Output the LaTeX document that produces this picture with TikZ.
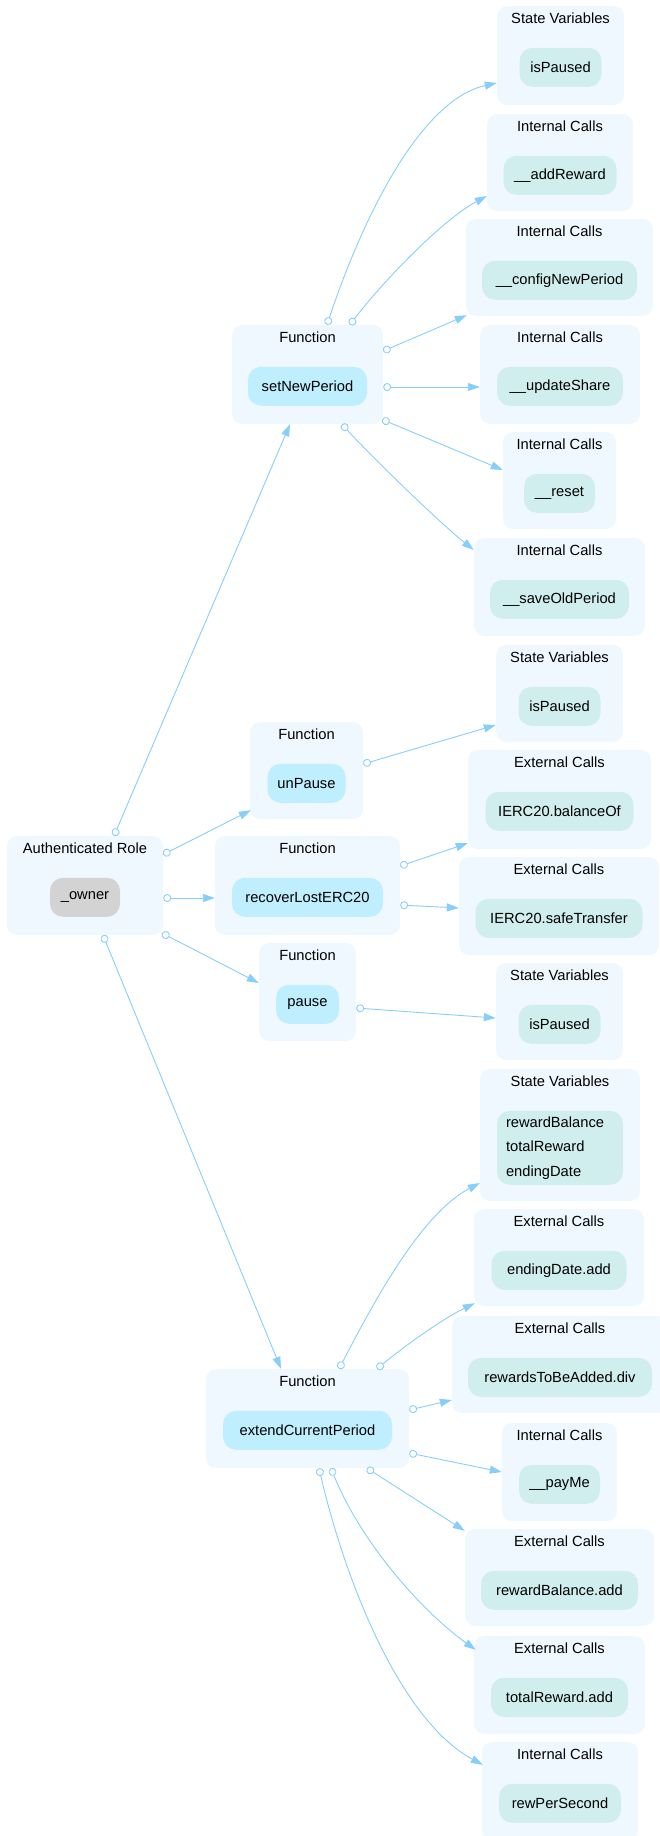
\documentclass[tikz,border=0pt]{standalone}
\usepackage{fontspec}
\setmainfont{Liberation Sans}
\usetikzlibrary{arrows.meta,fit}
\definecolor{clusterbg}{HTML}{F0F8FF}
\definecolor{fnfill}{HTML}{BFEFFF}
\definecolor{callfill}{HTML}{D1EEEE}
\definecolor{rolefill}{HTML}{D3D3D3}
\definecolor{edgecol}{HTML}{87CEFA}
\newcommand{\labelfont}{\fontsize{14.7}{17}\selectfont}
\tikzset{
grp/.style={fill=clusterbg, rounded corners=10pt, inner sep=0pt},
grptitle/.style={font=\labelfont, inner sep=0pt},
item/.style={rounded corners=13pt, minimum height=39pt, inner sep=0pt, font=\labelfont},
fn/.style={item, fill=fnfill},
call/.style={item, fill=callfill},
role/.style={item, fill=rolefill},
edge/.style={draw=edgecol, line width=0.9pt, {Circle[open,length=8pt,width=8pt]}-{Triangle[length=12pt,width=8pt]}}
}
% name, x1, y1, x2, y2, title
\newcommand{\callbox}[6]{%
  \node[grp, fit={(#2,#3) (#4,#5)}] (#1) {};
  \node[grptitle] (#1T) at ([shift={(0,12)}]#1.north) {#6};
}

\begin{document}
\begin{tikzpicture}[x=1pt, y=-1pt]
  \useasboundingbox (0,0) rectangle (659,1836);

  % role and functions
  \callbox{authRole}{7}{836}{163}{935}{Authenticated Role}
  \callbox{fnSet}{232}{325}{383}{424}{Function}
  \callbox{fnUnpause}{250}{722}{363}{819}{Function}
  \callbox{fnRecover}{215}{836}{400}{935}{Function}
  \callbox{fnPause}{259}{943}{356}{1041}{Function}
  \callbox{fnExtend}{206}{1369}{409}{1468}{Function}
  \node[role, minimum width=70pt] (owner) at ([shift={(0,61.5)}]authRole.north) {\_owner};
  \node[fn, minimum width=119pt] (setNewPeriod) at ([shift={(0,61.5)}]fnSet.north) {setNewPeriod};
  \node[fn, minimum width=78pt] (unPause) at ([shift={(0,61.5)}]fnUnpause.north) {unPause};
  \node[fn, minimum width=151pt] (recoverLostERC20) at ([shift={(0,61.5)}]fnRecover.north) {recoverLostERC20};
  \node[fn, minimum width=63pt] (pause) at ([shift={(0,61.5)}]fnPause.north) {pause};
  \node[fn, minimum width=169pt] (extendCurrentPeriod) at ([shift={(0,61.5)}]fnExtend.north) {extendCurrentPeriod};

  % setNewPeriod
  \callbox{svSet}{497}{6}{624}{105}{State Variables}
  \callbox{icAddReward}{487}{114}{633}{211}{Internal Calls}
  \callbox{icConfig}{466}{219}{653}{316}{Internal Calls}
  \callbox{icUpdate}{480}{325}{640}{424}{Internal Calls}
  \callbox{icReset}{503}{432}{616}{529}{Internal Calls}
  \callbox{icSaveOld}{474}{538}{645}{636}{Internal Calls}
  \node[call, minimum width=82pt] (isPausedA) at ([shift={(0,61.5)}]svSet.north) {isPaused};
  \node[call, minimum width=113pt] (addReward) at ([shift={(0,61.5)}]icAddReward.north) {\_\_addReward};
  \node[call, minimum width=155pt] (configNewPeriod) at ([shift={(0,61.5)}]icConfig.north) {\_\_configNewPeriod};
  \node[call, minimum width=126pt] (updateShare) at ([shift={(0,61.5)}]icUpdate.north) {\_\_updateShare};
  \node[call, minimum width=71pt] (reset) at ([shift={(0,61.5)}]icReset.north) {\_\_reset};
  \node[call, minimum width=139pt] (saveOldPeriod) at ([shift={(0,61.5)}]icSaveOld.north) {\_\_saveOldPeriod};

  % unPause, recoverLostERC20, pause
  \callbox{svUnpause}{496}{645}{623}{742}{State Variables}
  \callbox{ecBalance}{468}{750}{651}{849}{External Calls}
  \callbox{ecSafe}{459}{857}{659}{955}{External Calls}
  \callbox{svPause}{496}{963}{623}{1060}{State Variables}
  \node[call, minimum width=82pt] (isPausedB) at ([shift={(0,61.5)}]svUnpause.north) {isPaused};
  \node[call, minimum width=148pt] (balanceOf) at ([shift={(0,61.5)}]ecBalance.north) {IERC20.balanceOf};
  \node[call, minimum width=167pt] (safeTransfer) at ([shift={(0,61.5)}]ecSafe.north) {IERC20.safeTransfer};
  \node[call, minimum width=82pt] (isPausedC) at ([shift={(0,61.5)}]svPause.north) {isPaused};

  % extendCurrentPeriod
  \callbox{svExtend}{480}{1069}{640}{1201}{State Variables}
  \callbox{ecEnding}{474}{1209}{644}{1306}{External Calls}
  \callbox{ecRewards}{452}{1316}{668}{1413}{External Calls}
  \callbox{icPayMe}{502}{1423}{617}{1521}{Internal Calls}
  \callbox{ecBalanceAdd}{465}{1529}{654}{1626}{External Calls}
  \callbox{ecTotal}{474}{1636}{645}{1734}{External Calls}
  \callbox{icRewPer}{482}{1742}{638}{1840}{Internal Calls}
  \node[call, text width=108pt, inner xsep=9pt, minimum height=74pt, align=left,
        font=\fontsize{14.7}{24.5}\selectfont] (stateVars) at ([shift={(0,79)}]svExtend.north)
        {rewardBalance\\totalReward\\endingDate};
  \node[call, minimum width=135pt] (endingDateAdd) at ([shift={(0,61.5)}]ecEnding.north) {endingDate.add};
  \node[call, minimum width=184pt] (rewardsDiv) at ([shift={(0,61.5)}]ecRewards.north) {rewardsToBeAdded.div};
  \node[call, minimum width=81pt] (payMe) at ([shift={(0,61.5)}]icPayMe.north) {\_\_payMe};
  \node[call, minimum width=157pt] (rewardBalanceAdd) at ([shift={(0,61.5)}]ecBalanceAdd.north) {rewardBalance.add};
  \node[call, minimum width=137pt] (totalRewardAdd) at ([shift={(0,61.5)}]ecTotal.north) {totalReward.add};
  \node[call, minimum width=122pt] (rewPerSecond) at ([shift={(0,61.5)}]icRewPer.north) {rewPerSecond};

  % edges from the role
  \draw[edge] ([shift={(29,0)}]authRole.north) -- ([shift={(-17.5,0)}]fnSet.south);
  \draw[edge] ([shift={(0,-31)}]authRole.east) -- ([shift={(1,-9)}]fnUnpause.south west);
  \draw[edge] ([shift={(0,12.5)}]authRole.east) -- ([shift={(0,12.5)}]fnRecover.west);
  \draw[edge] ([shift={(-1,-2)}]authRole.south east) -- ([shift={(0,-9)}]fnPause.west);
  \draw[edge] ([shift={(18,0)}]authRole.south) -- ([shift={(-26.5,0)}]fnExtend.north);

  % edges from setNewPeriod
  \draw[edge] ([shift={(19.5,0)}]fnSet.north) .. controls +(35,-105) and +(-77,17) .. ([shift={(0,27.5)}]svSet.west);
  \draw[edge] ([shift={(42.5,0)}]fnSet.north) .. controls +(30,-40) and +(-45,24) .. ([shift={(0,33.5)}]icAddReward.west);
  \draw[edge] ([shift={(0,-23.5)}]fnSet.east) -- ([shift={(1,-1)}]icConfig.south west);
  \draw[edge] ([shift={(0,12.5)}]fnSet.east) -- ([shift={(0,12.5)}]icUpdate.west);
  \draw[edge] ([shift={(-1,45)}]fnSet.east) -- ([shift={(0,-10.5)}]icReset.west);
  \draw[edge] ([shift={(34.5,0)}]fnSet.south) .. controls +(28,31) and +(-35,-28) .. ([shift={(0,-37)}]icSaveOld.west);

  % edges from unPause, recoverLostERC20, pause
  \draw[edge] ([shift={(0,-6.5)}]fnUnpause.east) -- ([shift={(0,31.5)}]svUnpause.west);
  \draw[edge] ([shift={(0,-19.5)}]fnRecover.east) -- ([shift={(0,-6)}]ecBalance.south west);
  \draw[edge] ([shift={(0,19.5)}]fnRecover.east) -- ([shift={(0,2)}]ecSafe.west);
  \draw[edge] ([shift={(0,16)}]fnPause.east) -- ([shift={(0,6.5)}]svPause.west);

  % edges from extendCurrentPeriod
  \draw[edge] ([shift={(31.5,0)}]fnExtend.north) .. controls +(31,-59) and +(-61,32) .. ([shift={(0,48)}]svExtend.west);
  \draw[edge] ([shift={(69.5,0)}]fnExtend.north) .. controls +(23,-19) and +(-35,17) .. ([shift={(1,-3)}]ecEnding.south west);
  \draw[edge] ([shift={(0,-8.5)}]fnExtend.east) -- ([shift={(0,35.5)}]ecRewards.west);
  \draw[edge] ([shift={(0,34.5)}]fnExtend.east) -- (icPayMe.west);
  \draw[edge] ([shift={(59.5,0)}]fnExtend.south) -- ([shift={(0,2)}]ecBalanceAdd.north west);
  \draw[edge] ([shift={(23.5,0)}]fnExtend.south) .. controls +(29,72) and +(-56,-40) .. ([shift={(2,14)}]ecTotal.north west);
  \draw[edge] ([shift={(11.5,0)}]fnExtend.south) .. controls +(26,112) and +(-83,-45) .. ([shift={(1,23)}]icRewPer.north west);
\end{tikzpicture}
\end{document}
